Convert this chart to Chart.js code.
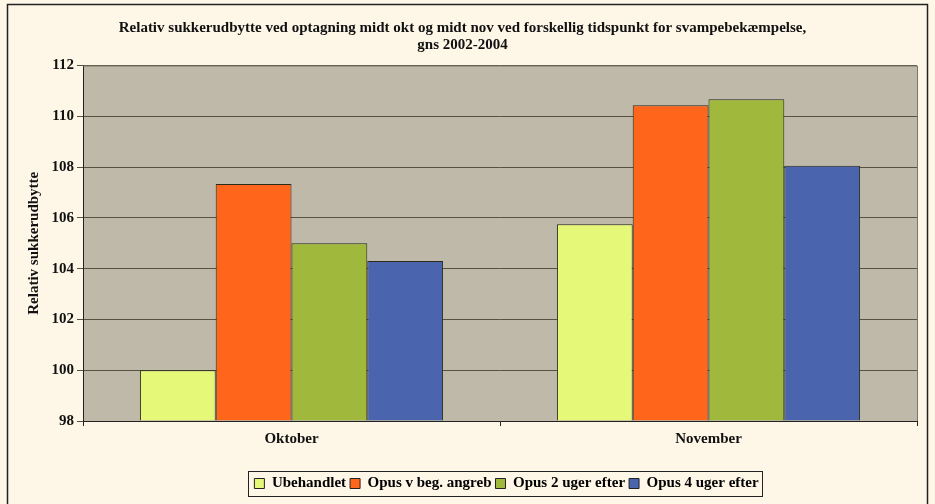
<!DOCTYPE html>
<html><head><meta charset="utf-8">
<script src="https://cdn.jsdelivr.net/npm/chart.js@4/dist/chart.umd.min.js"></script>
<style>html,body{margin:0;padding:0;background:#FEF7E7;}#wrap{width:935px;height:504px;position:relative;}</style>
</head><body><div id="wrap"><canvas id="c" width="935" height="504"></canvas></div>
<script>
const categories = ["Oktober", "November"];
const seriesNames = ["Ubehandlet", "Opus v beg. angreb", "Opus 2 uger efter", "Opus 4 uger efter"];
const ubehandlet = [100.0, 105.75];
const opusBeg = [107.33, 110.43];
const opus2 = [105.0, 110.67];
const opus4 = [104.3, 108.05];
const yTicks = [98, 100, 102, 104, 106, 108, 110, 112];
const colors = ["#E6F878", "#FF661C", "#A0B93D", "#4A65AD"];
const FONT = "'Liberation Serif','Times New Roman',serif";

const bgPlugin = {
  id: 'bg',
  afterUpdate(chart) {
    const l = chart.legend;
    if (!l) return;
    const dx = 44;
    l.left += dx; l.right += dx;
    (l.legendHitBoxes || []).forEach(h => { h.left += dx; });
  },
  beforeDraw(chart) {
    const ctx = chart.ctx;
    ctx.save();
    ctx.fillStyle = '#FEF7E7';
    ctx.fillRect(0, 0, chart.width, chart.height);
    ctx.strokeStyle = '#222';
    ctx.lineWidth = 1.5;
    ctx.strokeRect(7.5, 4.5, 920, 505);
    const a = chart.chartArea;
    ctx.fillStyle = '#BEB9A8';
    ctx.fillRect(a.left, a.top, a.right - a.left, a.bottom - a.top);
    ctx.restore();
  },
  afterDatasetsDraw(chart) {
    const ctx = chart.ctx, a = chart.chartArea;
    ctx.save();
    ctx.strokeStyle = '#7a7566';
    ctx.lineWidth = 1;
    ctx.beginPath();
    ctx.moveTo(a.left, a.top + 0.5); ctx.lineTo(a.right + 0.5, a.top + 0.5); ctx.lineTo(a.right + 0.5, a.bottom);
    ctx.stroke();
    ctx.restore();
  },
  afterDraw(chart) {
    const ctx = chart.ctx;
    const hb = chart.legend.legendHitBoxes;
    if (hb && hb.length) {
      ctx.save();
      ctx.strokeStyle = '#222';
      ctx.lineWidth = 1;
      const x0 = Math.min(...hb.map(h => h.left)) - 6;
      const x1 = Math.max(...hb.map(h => h.left + h.width)) + 4;
      const y0 = Math.min(...hb.map(h => h.top)) - 5;
      const y1 = Math.max(...hb.map(h => h.top + h.height)) + 5;
      ctx.strokeRect(Math.round(x0) + 0.5, Math.round(y0) + 0.5, Math.round(x1 - x0), Math.round(y1 - y0));
      ctx.restore();
    }
  }
};

new Chart(document.getElementById('c'), {
  type: 'bar',
  data: {
    labels: categories,
    datasets: [
      { label: seriesNames[0], data: ubehandlet },
      { label: seriesNames[1], data: opusBeg },
      { label: seriesNames[2], data: opus2 },
      { label: seriesNames[3], data: opus4 }
    ].map((d, i) => Object.assign(d, {
      backgroundColor: colors[i], borderColor: '#2b2a1c', borderWidth: 1,
      barPercentage: 1.0, categoryPercentage: 0.727, base: 98
    }))
  },
  options: {
    responsive: false,
    animation: false,
    devicePixelRatio: 1,
    layout: { padding: { left: 8, right: 18, top: 0, bottom: 3 } },
    plugins: {
      title: {
        display: true,
        text: ["Relativ sukkerudbytte ved optagning midt okt og midt nov ved forskellig tidspunkt for svampebekæmpelse,", "gns 2002-2004"],
        color: '#111',
        font: { family: FONT, size: 15, weight: 'bold', lineHeight: 1.15 },
        padding: { top: 19, bottom: 12 }
      },
      legend: {
        position: 'bottom',
        labels: {
          color: '#111',
          font: { family: FONT, size: 15, weight: 'bold' },
          boxWidth: 10, boxHeight: 10, padding: 4,
          generateLabels(chart) {
            return chart.data.datasets.map((d, i) => ({
              text: d.label, fillStyle: d.backgroundColor, strokeStyle: '#222', lineWidth: 1,
              datasetIndex: i, hidden: false
            }));
          }
        }
      },
      tooltip: { enabled: false }
    },
    scales: {
      x: {
        offset: true,
        grid: { display: true, offset: true, drawOnChartArea: false, drawTicks: true, tickLength: 5, color: '#222' },
        border: { display: true, color: '#222', width: 1 },
        ticks: { color: '#111', font: { family: FONT, size: 15, weight: 'bold' }, padding: 4 },
        afterFit(s) { s.height = 51; }
      },
      y: {
        min: 98, max: 112,
        afterBuildTicks(s) { s.ticks = yTicks.map(v => ({ value: v })); },
        grid: { color: '#57523f', lineWidth: 1, drawTicks: true, tickLength: 6 },
        border: { display: true, color: '#222', width: 1 },
        ticks: { color: '#111', font: { family: FONT, size: 15, weight: 'bold' }, padding: 3 },
        title: { display: true, text: 'Relativ sukkerudbytte', color: '#111', font: { family: FONT, size: 15, weight: 'bold' }, padding: { top: 17, bottom: 0 } },
        afterFit(s) { s.width = 75; }
      }
    }
  },
  plugins: [bgPlugin]
});
</script>
</body></html>
